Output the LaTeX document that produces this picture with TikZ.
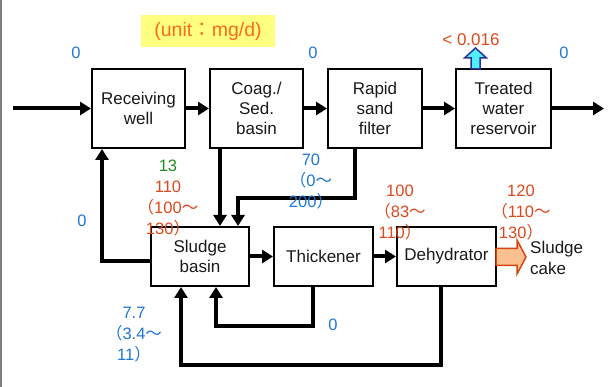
\documentclass[tikz,border=0pt]{standalone}
\usepackage{fontspec}
\setmainfont{Liberation Sans}
\newfontfamily\cjk{Noto Sans CJK JP}
\usetikzlibrary{arrows.meta,calc}
\definecolor{lblue}{RGB}{30,118,214}
\definecolor{lred}{RGB}{222,72,28}
\definecolor{lgreen}{RGB}{34,140,34}
\definecolor{lyellow}{RGB}{255,255,128}
\definecolor{lorange}{RGB}{255,106,26}
\definecolor{cakefill}{RGB}{250,192,144}
\definecolor{cakeedge}{RGB}{214,70,20}
\definecolor{upfill}{RGB}{80,240,250}
\definecolor{upedge}{RGB}{48,48,160}
\newcommand{\lp}{{\cjk （}}
\newcommand{\rp}{{\cjk ）}}
\newcommand{\wv}{{\cjk ～}}
\begin{document}
\begin{tikzpicture}[x=1pt,y=-1pt,
  procbox/.style={draw=black,line width=2pt,fill=white,align=center,inner sep=0pt,
    font=\fontsize{17}{20}\selectfont,text=black!90},
  flow/.style={line width=4pt,-{Triangle[length=11pt,width=13pt]}},
  lbl/.style={inner sep=0pt,align=center,font=\fontsize{16.5}{21}\selectfont}]
\useasboundingbox (0,0) rectangle (608,387);
\fill[white] (0,0) rectangle (608,387);
\draw[gray,line width=2pt] (1,0) -- (1,387);
% unit box
\node[fill=lyellow,minimum width=134pt,minimum height=32pt,inner sep=0pt,
  text=lorange,font=\fontsize{19.5}{22}\selectfont] (unit) at (208,31) {(unit{\cjk ：}mg/d)};
% boxes
\node[procbox,minimum width=93pt,minimum height=79pt] (rw) at (138.5,108.5) {Receiving\\well};
\node[procbox,minimum width=93pt,minimum height=79pt] (cs) at (256.5,108.5) {Coag./\\Sed.\\basin};
\node[procbox,minimum width=94pt,minimum height=79pt] (rf) at (375,108.5) {Rapid\\sand\\filter};
\node[procbox,minimum width=95pt,minimum height=79pt] (tr) at (503.5,108.5) {Treated\\water\\reservoir};
\node[procbox,minimum width=98pt,minimum height=59pt] (sb) at (200,256.5) {Sludge\\basin};
\node[procbox,minimum width=99pt,minimum height=59pt] (th) at (323.5,256.5) {Thickener};
\node[procbox,minimum width=99pt,minimum height=59pt] (de) at (446.5,256.5) {Dehydrator};
\coordinate (inp) at (13,108.5);
\coordinate (outp) at (604,108.5);
% main line
\draw[flow] (inp) -- (rw.west);
\draw[flow] (rw.east) -- (cs.west);
\draw[flow] (cs.east) -- (rf.west);
\draw[flow] (rf.east) -- (tr.west);
\draw[flow] (tr.east) -- (outp);
% to sludge basin
\draw[flow] ([xshift=11pt]cs.south west) -- ([xshift=70pt]sb.north west);
\draw[flow] ([xshift=28pt]rf.south west) -- ++(0,49) -| ([xshift=88pt]sb.north west);
\draw[flow] ([yshift=-4.5pt]sb.west) -| ([xshift=11pt]rw.south west);
\draw[flow] (sb.east) -- (th.west);
\draw[flow] (th.east) -- (de.west);
\draw[flow] ([xshift=40pt]th.south west) -- ++(0,39) -| ([xshift=66pt]sb.south west);
\draw[flow] ([xshift=45pt]de.south west) -- ++(0,78) -| ([xshift=31pt]sb.south west);
% up block arrow
\draw[draw=upedge,fill=upfill,line width=1.5pt,line join=miter]
  (471,69) -- (471,58) -- (464.5,58) -- (475.5,48) -- (486.5,58) -- (480,58) -- (480,69) -- cycle;
% sludge cake block arrow
\draw[draw=cakeedge,fill=cakefill,line width=1.5pt,line join=miter]
  (496,248.5) -- (517,248.5) -- (517,240) -- (526,257) -- (517,274) -- (517,265.5) -- (496,265.5) -- cycle;
\node[lbl,text=black!90,align=left,anchor=west,font=\fontsize{17}{21}\selectfont] (cake) at (530,257.5) {Sludge\\cake};
% labels
\node[lbl,text=lblue] (l1) at (76,53) {0};
\node[lbl,text=lblue] (l2) at (313,53) {0};
\node[lbl,text=lblue] (l3) at (564,53) {0};
\node[lbl,text=lred,font=\fontsize{17}{21}\selectfont] (l4) at (471,40) {< 0.016};
\node[lbl] (l5) at (168,198) {\textcolor{lgreen}{13}\\\textcolor{lred}{110}\\\textcolor{lred}{\lp100\wv}\\\textcolor{lred}{130\rp}};
\node[lbl,text=lblue] (l6) at (82,221) {0};
\node[lbl,text=lblue] (l7) at (311,182) {70\\\lp0\wv\\200\rp};
\node[lbl,text=lred] (l8) at (400,213) {100\\\lp83\wv\\110\rp};
\node[lbl,text=lred] (l9) at (521,213) {120\\\lp110\wv\\130\rp};
\node[lbl,text=lblue] (l10) at (134,335) {7.7\\\lp3.4\wv\\11\rp};
\node[lbl,text=lblue] (l11) at (333,325) {0};
\end{tikzpicture}
\end{document}
